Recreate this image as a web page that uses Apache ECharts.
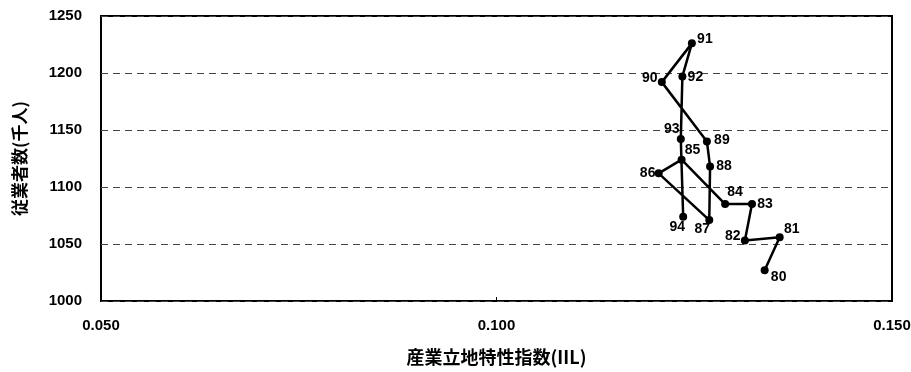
<!DOCTYPE html>
<html>
<head>
<meta charset="utf-8">
<script src="https://cdn.jsdelivr.net/npm/echarts@6/dist/echarts.min.js"></script>
<style>
  html, body { margin: 0; padding: 0; background: #fff; }
  #chart { width: 911px; height: 372px; }
</style>
</head>
<body>
<div id="chart"></div>
<script>
// 年次（80年〜94年）
var years = ['80', '81', '82', '83', '84', '85', '86', '87', '88', '89', '90', '91', '92', '93', '94'];
// 産業立地特性指数(IIL)
var iil = [0.1339, 0.1358, 0.1314, 0.1323, 0.1289, 0.1234, 0.1205, 0.1269, 0.1270, 0.1266, 0.1209, 0.1247, 0.1235, 0.1233, 0.1236];
// 従業者数(千人)
var workers = [1027, 1056, 1053, 1085, 1085, 1124, 1112, 1071, 1118, 1140, 1192, 1226, 1197, 1142, 1074];
// ラベルのずらし量 (px)
var labelOffsets = [[14, 7], [12, -8], [-12, -4], [13, 0], [10, -12], [11, -9], [-11, 0], [-7, 9],
                    [14, 0], [15, -1], [-12, -4], [13, -4], [13, 1], [-9, -10], [-6, 11]];

var data = years.map(function (y, i) {
    return {
        name: y,
        value: [iil[i], workers[i]],
        label: { position: 'inside', offset: labelOffsets[i] }
    };
});

var myChart = echarts.init(document.getElementById('chart'));
myChart.setOption({
    animation: false,
    textStyle: { fontFamily: 'Liberation Sans, Arial, sans-serif' },
    grid: {
        left: 101, right: 19, top: 16, bottom: 71,
        outerBoundsMode: 'none',
        containLabel: false,
        show: true, borderColor: '#000', borderWidth: 2
    },
    xAxis: {
        type: 'value',
        min: 0.05, max: 0.15, interval: 0.05,
        name: '産業立地特性指数(IIL)',
        nameLocation: 'middle',
        nameGap: 47,
        nameTextStyle: { color: '#000', fontSize: 18, fontWeight: 'bold', fontFamily: 'Noto Sans CJK JP' },
        axisLine: { show: false },
        axisTick: { show: true, inside: true, length: 4, lineStyle: { color: '#000' } },
        splitLine: { show: false },
        axisLabel: {
            color: '#000', fontSize: 15, fontWeight: 'bold', margin: 17,
            formatter: function (v) { return v.toFixed(3); }
        }
    },
    yAxis: {
        type: 'value',
        min: 1000, max: 1250, interval: 50,
        name: '従業者数(千人)',
        nameLocation: 'middle',
        nameGap: 73,
        nameRotate: 90,
        nameTextStyle: { color: '#000', fontSize: 17, fontWeight: 'bold', fontFamily: 'Noto Sans CJK JP' },
        axisLine: { show: false },
        axisTick: { show: false },
        splitLine: { show: true, lineStyle: { color: '#444', type: [7, 5], width: 1 } },
        axisLabel: {
            color: '#000', fontSize: 15, fontWeight: 'bold', margin: 19,
            formatter: function (v) { return String(v); }
        }
    },
    series: [{
        type: 'line',
        data: data,
        symbol: 'circle',
        symbolSize: 8,
        lineStyle: { color: '#000', width: 2.5 },
        itemStyle: { color: '#000' },
        label: {
            show: true,
            formatter: '{b}',
            color: '#000',
            fontSize: 14,
            fontWeight: 'bold'
        }
    }]
});
</script>
</body>
</html>
